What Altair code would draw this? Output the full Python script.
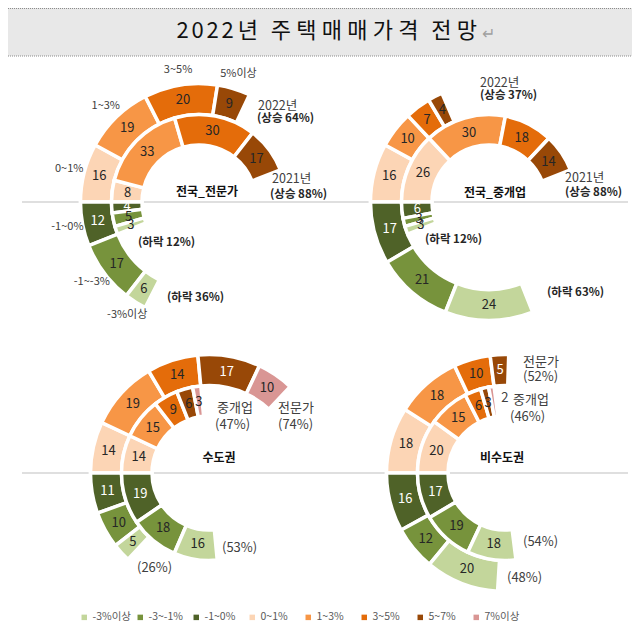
import math
import altair as alt
import pandas as pd

# ---------------- data ----------------
categories = ["-3%이상", "-3~-1%", "-1~0%", "0~1%", "1~3%", "3~5%", "5~7%", "7%이상"]
palette = ["#C3D69B", "#77933C", "#4F6228", "#FCD5B5", "#F79646", "#E46C0A", "#984807", "#D99694"]
up_cats = ["0~1%", "1~3%", "3~5%", "5~7%", "7%이상"]
down_cats = ["-1~0%", "-3~-1%", "-3%이상"]

# 전국_전문가 : outer ring = 2022, inner ring = 2021
nat_expert_2022_up = [16, 19, 20, 9, 0]
nat_expert_2022_down = [12, 17, 6]
nat_expert_2021_up = [8, 33, 30, 17, 0]
nat_expert_2021_down = [4, 5, 3]
# 전국_중개업
nat_agent_2022_up = [16, 10, 7, 4, 0]
nat_agent_2022_down = [17, 21, 24]
nat_agent_2021_up = [26, 30, 18, 14, 0]
nat_agent_2021_down = [6, 3, 3]
# 수도권 : outer ring = 전문가, inner ring = 중개업
capital_expert_up = [14, 19, 14, 17, 10]
capital_expert_down = [11, 10, 5]
capital_agent_up = [14, 15, 9, 6, 3]
capital_agent_down = [19, 18, 16]
# 비수도권
noncap_expert_up = [18, 18, 10, 5, 0]
noncap_expert_down = [16, 12, 20]
noncap_agent_up = [20, 15, 6, 3, 2]
noncap_agent_down = [17, 19, 18]

tl_up_names = ["0~1%", "1~3%", "3~5%", "5%이상", ""]
tl_down_names = ["-1~0%", "-1~-3%", "-3%이상"]

title_text = "2022년 주택매매가격 전망"

# ---------------- layout ----------------
FONT = "Noto Sans CJK KR"
OFF = 8
W, H = 624, 616


def px(v):
    return v - OFF


RINGS = {"inner": (57, 87.5, 72), "outer": (87.5, 118.5, 103)}

theta_scale = alt.Scale(domain=[-100, 100], range=[math.pi / 2, 5 * math.pi / 2])
color_scale = alt.Scale(domain=categories, range=palette)
legend = alt.Legend(
    orient="none", legendX=71, legendY=604, direction="horizontal", columns=8,
    title=None, symbolType="square", symbolSize=30, symbolStrokeWidth=0,
    labelFontSize=10.5, labelColor="#595959", labelFont=FONT, gridAlign="all",
    columnPadding=4, labelOffset=3, padding=0,
)


def ring_frame(up, down, up_names=None, down_names=None):
    rows = []
    cum = 0
    for i, (c, v) in enumerate(zip(up_cats, up)):
        if v > 0:
            rows.append(dict(cat=c, val=v, start=cum, end=cum + v, mid=cum + v / 2,
                             name=up_names[i] if up_names else ""))
        cum += v
    cum = 0
    for i, (c, v) in enumerate(zip(down_cats, down)):
        if v > 0:
            rows.append(dict(cat=c, val=v, start=-cum, end=-(cum + v), mid=-(cum + v / 2),
                             name=down_names[i] if down_names else ""))
        cum += v
    return pd.DataFrame(rows)


panels = [
    dict(center=(199, 202), bottom=False,
         rings=[("outer", nat_expert_2022_up, nat_expert_2022_down),
                ("inner", nat_expert_2021_up, nat_expert_2021_down)]),
    dict(center=(489, 202), bottom=False,
         rings=[("outer", nat_agent_2022_up, nat_agent_2022_down),
                ("inner", nat_agent_2021_up, nat_agent_2021_down)]),
    dict(center=(209, 473), bottom=True,
         rings=[("outer", capital_expert_up, capital_expert_down),
                ("inner", capital_agent_up, capital_agent_down)]),
    dict(center=(505, 473), bottom=True,
         rings=[("outer", noncap_expert_up, noncap_expert_down),
                ("inner", noncap_agent_up, noncap_agent_down)]),
]

one = pd.DataFrame({"k": [0]})
layers = []

# title box
layers.append(alt.Chart(one).mark_rect(color="#E8E8E8").encode(
    x=alt.value(0), x2=alt.value(W), y=alt.value(0), y2=alt.value(px(56))))
for yy in (0.5, px(56)):
    layers.append(alt.Chart(one).mark_rule(color="#8C8C8C", strokeDash=[1, 1], strokeWidth=1).encode(
        x=alt.value(0), x2=alt.value(W), y=alt.value(yy)))

# title: the original uses widened character spacing, so lay the characters out one by one
cursor = 175.0
for ch in title_text:
    if ch == " ":
        adv = 7.5
    elif ch.isdigit():
        adv = 15.0
    else:
        adv = 25.5
    layers.append(alt.Chart(one).mark_text(text=ch, font=FONT, fontSize=22, color="#111111",
                                           align="center", baseline="middle").encode(
        x=alt.value(px(cursor + adv / 2)), y=alt.value(px(31))))
    cursor += adv
layers.append(alt.Chart(one).mark_text(text="↵", font=FONT, fontSize=16, color="#A0A0A0",
                                       align="left", baseline="middle").encode(
    x=alt.value(px(cursor + 2)), y=alt.value(px(34))))

# horizontal separators
for yy in (202, 473):
    layers.append(alt.Chart(one).mark_rule(color="#BFBFBF", strokeWidth=1).encode(
        x=alt.value(px(22)), x2=alt.value(px(628)), y=alt.value(px(yy))))

# rings
for pi, p in enumerate(panels):
    cx, cy = px(p["center"][0]), px(p["center"][1])
    for ring, up, down in p["rings"]:
        r_in, r_out, r_mid = RINGS[ring]
        if pi == 0 and ring == "outer":
            df = ring_frame(up, down, tl_up_names, tl_down_names)
        else:
            df = ring_frame(up, down)
        layers.append(alt.Chart(df).mark_arc(radius=r_out, radius2=r_in, stroke="white",
                                             strokeWidth=3.5).encode(
            theta=alt.Theta("start:Q", scale=theta_scale, stack=None),
            theta2=alt.Theta2("end:Q"),
            color=alt.Color("cat:N", scale=color_scale, legend=legend),
            x=alt.value(cx), y=alt.value(cy)))
        white = (df["cat"] == "-1~0%") | ((df["cat"] == "5~7%") & p["bottom"] & (ring == "outer"))
        tiny = df["val"] <= 2
        groups = [(df[white & ~tiny], "#FFFFFF", 0, 0), (df[~white & ~tiny], "#262626", 0, 0),
                  (df[tiny], "#404040", 11, -4)]
        for sub, col, ddx, ddy in groups:
            if len(sub) == 0:
                continue
            layers.append(alt.Chart(sub).mark_text(radius=r_mid, font=FONT, fontSize=13, color=col,
                                                   dx=ddx, dy=ddy, baseline="middle").encode(
                theta=alt.Theta("mid:Q", scale=theta_scale, stack=None),
                text=alt.Text("val:Q"),
                x=alt.value(cx), y=alt.value(cy)))
        if pi == 0 and ring == "outer":
            layers.append(alt.Chart(df).mark_text(radius=134, font=FONT, fontSize=11, color="#404040",
                                                  baseline="middle").encode(
                theta=alt.Theta("mid:Q", scale=theta_scale, stack=None),
                text=alt.Text("name:N"),
                x=alt.value(cx), y=alt.value(cy)))


def note(text, x, y, align="left", bold=False, size=12, color="#404040"):
    return alt.Chart(one).mark_text(text=text, font=FONT, fontSize=size,
                                    fontWeight="bold" if bold else "normal",
                                    color=color, align=align, baseline="middle").encode(
        x=alt.value(px(x)), y=alt.value(px(y)))


notes = [
    # 전국_전문가
    ("2022년", 258, 106, "left", False, 12.5, "#404040"),
    ("(상승 64%)", 257, 119, "left", True, 11.5, "#262626"),
    ("2021년", 272, 179, "left", False, 12.5, "#404040"),
    ("(상승 88%)", 270, 195, "left", True, 11.5, "#262626"),
    ("전국_전문가", 207, 192, "center", True, 12, "#111111"),
    ("(하락 12%)", 138, 243, "left", True, 11.5, "#262626"),
    ("(하락 36%)", 167, 298, "left", True, 11.5, "#262626"),
    # 전국_중개업
    ("2022년", 480, 83, "left", False, 12.5, "#404040"),
    ("(상승 37%)", 480, 96, "left", True, 11.5, "#262626"),
    ("2021년", 565, 178, "left", False, 12.5, "#404040"),
    ("(상승 88%)", 565, 193, "left", True, 11.5, "#262626"),
    ("전국_중개업", 495, 193, "center", True, 12, "#111111"),
    ("(하락 12%)", 425, 240, "left", True, 11.5, "#262626"),
    ("(하락 63%)", 547, 293, "left", True, 11.5, "#262626"),
    # 수도권
    ("중개업", 217, 408, "left", False, 13, "#404040"),
    ("(47%)", 215, 425, "left", False, 13, "#404040"),
    ("전문가", 278, 408, "left", False, 13, "#404040"),
    ("(74%)", 278, 425, "left", False, 13, "#404040"),
    ("수도권", 219, 458, "center", True, 12, "#111111"),
    ("(53%)", 222, 548, "left", False, 13, "#404040"),
    ("(26%)", 137, 568, "left", False, 13, "#404040"),
    # 비수도권
    ("전문가", 523, 362, "left", False, 13, "#404040"),
    ("(52%)", 523, 377, "left", False, 13, "#404040"),
    ("중개업", 513, 400, "left", False, 13, "#404040"),
    ("(46%)", 510, 417, "left", False, 13, "#404040"),
    ("비수도권", 502, 458, "center", True, 12, "#111111"),
    ("(54%)", 523, 542, "left", False, 13, "#404040"),
    ("(48%)", 507, 578, "left", False, 13, "#404040"),
]
for t in notes:
    layers.append(note(*t))

chart = alt.layer(*layers).properties(
    width=W, height=H, padding=0, autosize=alt.AutoSizeParams(type="none")
).configure_view(stroke=None)

chart.save("out.html", embed_options={"renderer": "svg", "actions": False})
